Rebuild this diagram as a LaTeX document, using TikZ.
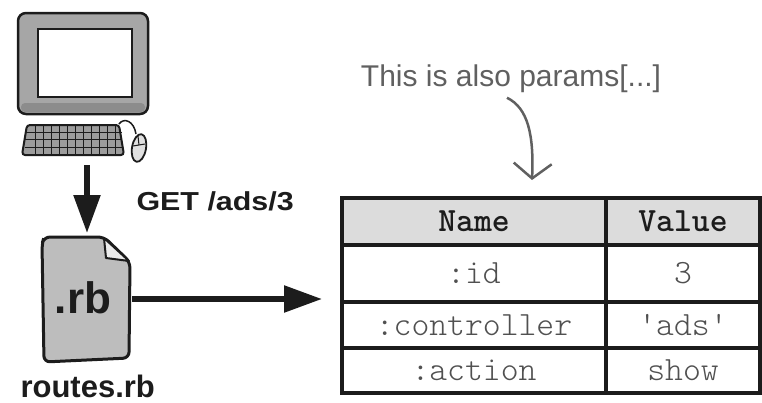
\documentclass[tikz,border=0pt]{standalone}
\usepackage{fontspec}
\setmainfont{Liberation Sans}
\usetikzlibrary{arrows.meta,calc}
\definecolor{ink}{HTML}{1C1C1C}
\definecolor{framegray}{HTML}{A6A6A6}
\definecolor{keygray}{HTML}{9C9C9C}
\definecolor{filegray}{HTML}{BDBDBD}
\definecolor{hdrgray}{HTML}{DCDCDC}
\definecolor{cellink}{HTML}{505050}
\definecolor{notegray}{HTML}{606060}
\tikzset{
  bigarrow/.style={ink, line width=5.5pt, -{Triangle[length=38pt,width=26pt]}},
  notearrow/.style={notegray, line width=2.5pt, -{Straight Barb[length=15pt,width=38pt]}},
  cell/.style={draw=ink, line width=3.5pt, inner sep=0pt, font=\ttfamily\fontseries{l}\fontsize{34}{34}\selectfont, text=cellink},
  hdrcell/.style={cell, fill=hdrgray, font=\ttfamily\bfseries\fontsize{34}{34}\selectfont, text=ink},
  bigcol/.style={minimum width=264pt},
  smallcol/.style={minimum width=154pt},
  ghost/.style={inner sep=0pt, outer sep=0pt}
}
\begin{document}
\begin{tikzpicture}[x=1pt,y=-1pt]
\useasboundingbox (0,0) rectangle (762,402);

% --- computer: monitor, keyboard, mouse ---
\draw[ink, line width=2.5pt, fill=framegray, rounded corners=8pt] (18,13) rectangle (148,114);
\fill[black!45, rounded corners=4pt] (21,103) rectangle (145,112);
\draw[ink, line width=2pt, fill=white] (38,29) rectangle (132,97);
\draw[ink, line width=2pt, fill=keygray, rounded corners=3pt] (27,125) -- (119,125) -- (124,155) -- (22,155) -- cycle;
\foreach \yy in {132,139,147}
  \draw[ink, line width=1pt] (25,\yy) -- (122,\yy);
\foreach \xx in {35,43,...,115}
  \draw[ink, line width=1pt] (\xx,126) -- (\xx,154);
\draw[ink, line width=1.5pt] (119,124) .. controls (124,117) and (134,121) .. (136,134);
\draw[ink, line width=1.8pt, fill=black!12, rotate around={-10:(139,148)}] (139,148) ellipse (7 and 14);
\draw[ink, line width=1pt] (133,146) -- (145,144);
\draw[ink, line width=1pt] (138,136) -- (139,145);
\node[ghost, minimum width=134pt, minimum height=153pt] (pc) at (87,88.5) {};

% --- routes file ---
\draw[ink, line width=3pt, fill=filegray, rounded corners=6pt] (42,244) -- (44,237) -- (104,237) -- (130,262) -- (129,358) -- (44,362) -- cycle;
\draw[ink, line width=2pt, fill=black!8, line join=round] (104,238) -- (106,258) -- (129,261) -- cycle;
\node[ink, font=\bfseries\fontsize{44}{44}\selectfont] (rb) at (83,298) {.rb};
\node[ghost, minimum width=90pt, minimum height=132pt] (file) at (87,299) {};
\node[ink, anchor=base west, font=\bfseries\fontsize{31}{31}\selectfont] (fname) at (17,397) {routes.rb};

% --- request arrow and label ---
\draw[bigarrow] (pc.south) -- (file.north);
\node[ink, anchor=base west, font=\bfseries\fontsize{26}{26}\selectfont] (req) at (133,210) {\scalebox{1.17}[1]{GET /ads/3}};

% --- params table ---
\node[hdrcell, bigcol, minimum height=47pt] (hname) at (474,221.5) {Name};
\node[hdrcell, smallcol, minimum height=47pt] (hvalue) at (683,221.5) {Value};
\node[cell, bigcol, minimum height=57pt] (kid) at (474,273.5) {:id};
\node[cell, smallcol, minimum height=57pt] (vid) at (683,273.5) {3};
\node[cell, bigcol, minimum height=46pt] (kctl) at (474,325) {:controller};
\node[cell, smallcol, minimum height=46pt] (vctl) at (683,325) {'ads'};
\node[cell, bigcol, minimum height=45pt] (kact) at (474,370.5) {:action};
\node[cell, smallcol, minimum height=45pt] (vact) at (683,370.5) {show};

\coordinate (hdst) at (322,299);
\draw[bigarrow] (file.east) -- (hdst);

% --- note ---
\node[notegray, anchor=base, font=\fontsize{30}{30}\selectfont] (note) at (511,86) {This is also params[...]};
\coordinate (tip) at (532,180);
\draw[notearrow] ($(note.south)+(-4,2)$) .. controls (528,108) and (534,135) .. (tip);
\end{tikzpicture}
\end{document}
